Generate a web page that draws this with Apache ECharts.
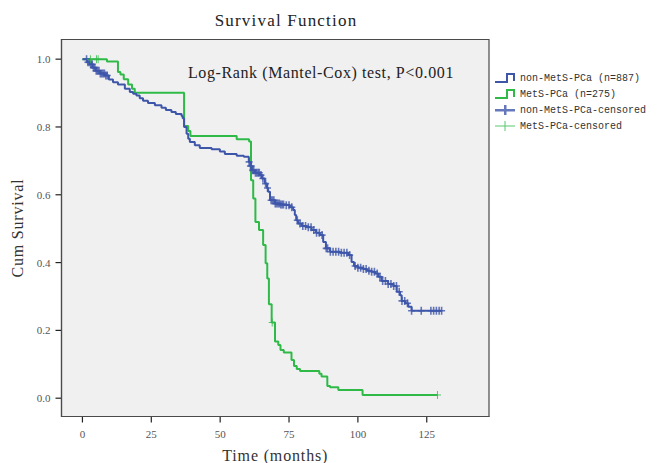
<!DOCTYPE html>
<html><head><meta charset="utf-8">
<script src="https://cdn.jsdelivr.net/npm/echarts@6/dist/echarts.min.js"></script>
<style>html,body{margin:0;padding:0;background:#fff}#c{width:661px;height:463px}</style>
</head><body><div id="c"></div><script>
// ---- data (months, cumulative survival) ----
var nonMetsTime = [0,1.7,2.7,3.7,4.8,6.3,8.1,9.6,11.1,12.9,15.4,17.2,18.4,19.6,20.8,22.0,23.8,26.3,28.7,30.3,32.3,33.9,36.0,36.4,36.9,37.8,38.4,39.0,40.8,42.6,46.9,49.9,51.7,56.0,58.6,60.4,61.0,61.5,62.6,64.4,65.2,66.2,67.0,67.4,68.1,69.9,71.7,73.5,75.3,76.5,77.1,77.6,78.3,79.6,81.4,83.2,84.8,86.2,87.4,88.4,89.9,93.5,96.5,97.7,98.6,100.0,102.0,103.3,105.0,106.2,107.4,108.6,111.0,112.9,114.1,115.3,115.9,117.1,118.3,119.5];
var nonMetsSurv = [1.0,0.991,0.985,0.975,0.966,0.958,0.952,0.940,0.932,0.925,0.913,0.903,0.898,0.893,0.885,0.877,0.871,0.864,0.857,0.850,0.844,0.838,0.832,0.826,0.800,0.780,0.765,0.756,0.746,0.738,0.734,0.728,0.720,0.715,0.712,0.697,0.685,0.672,0.665,0.658,0.648,0.633,0.620,0.609,0.584,0.574,0.571,0.569,0.563,0.555,0.540,0.525,0.515,0.508,0.504,0.496,0.488,0.481,0.461,0.442,0.432,0.429,0.422,0.402,0.390,0.385,0.381,0.376,0.373,0.368,0.358,0.346,0.337,0.331,0.314,0.304,0.287,0.280,0.270,0.258];
var nonMetsCensored = [1.5,2,2.5,3,3.5,4,4.5,5,5.5,6,6.5,7,7.5,8,8.5,9,60.5,61,61.3,61.8,62.2,62.8,63.3,63.8,64.2,64.8,65.5,66.5,67.2,68.5,69,69.5,70,70.5,71,71.5,72,72.5,73,74,75,76,78,79,80,81,82,83,84,85,86,87,88.5,89,90,91,92,93,94,95,96,97,99,100,101,102,103,104,105,106,107,108,109,110,111,112,113,114,115,116,117,118,119.5,123,126.5,127.5,128.5,129.5,130.4];
var metsTime = [0,8.9,12.9,13.8,15.0,16.6,18.0,19.0,36.9,38.4,39.2,56.0,60.5,61.2,62.0,62.8,64.1,65.6,66.5,67.1,67.7,68.7,69.9,71.1,71.9,73.1,75.9,76.8,77.8,79.0,86.0,86.8,88.9,89.9,92.9,101.7];
var metsSurv = [1.0,0.993,0.962,0.955,0.941,0.925,0.913,0.901,0.803,0.788,0.773,0.764,0.757,0.643,0.589,0.520,0.496,0.452,0.398,0.353,0.277,0.223,0.167,0.157,0.142,0.135,0.113,0.095,0.086,0.080,0.072,0.064,0.036,0.032,0.024,0.0097];
var metsCensored = [2.9,5.1,5.7,68.9,128.9];
var xTicks = [0,25,50,75,100,125];
var yTicks = [0,0.2,0.4,0.6,0.8,1.0];
var seriesNames = ['non-MetS-PCa (n=887)','MetS-PCa (n=275)','non-MetS-PCa-censored','MetS-PCa-censored'];

var X_MIN = -7.6, X_MAX = 147.6, Y_MIN = -0.054, Y_MAX = 1.058;

function survAt(times, surv, t){ var s = surv[0]; for (var i=0;i<times.length;i++){ if (times[i] <= t) s = surv[i]; } return s; }
function stepData(times, surv, cens){
  var d = times.map(function(t,i){return [t, surv[i]];});
  var last = cens[cens.length-1];
  if (last > times[times.length-1]) d.push([last, surv[surv.length-1]]);
  return d;
}
function censData(times, surv, cens){ return cens.map(function(t){return [t, survAt(times, surv, t)];}); }

var BLUE = '#3e56aa', GREEN = '#2fba48';
var SERIF = 'Liberation Serif';
var stepIcon = 'path://M0,8 L11,8 L11,0 L20,0 L20,8 L18,8 L18,2 L13,2 L13,10 L0,10 Z';
var plusBold = 'path://M0,4 L20,4 L20,6.5 L0,6.5 Z M9,0 L11.5,0 L11.5,10 L9,10 Z';
var plusThin = 'path://M0,4.6 L20,4.6 L20,5.6 L0,5.6 Z M9.5,0 L10.5,0 L10.5,10 L9.5,10 Z';
var plusMark = 'path://M0,3.2 L7,3.2 L7,4.8 L0,4.8 Z M2.7,0 L4.3,0 L4.3,8 L2.7,8 Z';
var plusMarkThin = 'path://M0,3.5 L7,3.5 L7,4.5 L0,4.5 Z M3,0 L4,0 L4,8 L3,8 Z';

// outward tick marks on the frame, positioned through the axes' scales
function xTickItem(params, api){
  var p = api.coord([api.value(0), api.value(1)]);
  return { type: 'line', shape: { x1: p[0], y1: p[1], x2: p[0], y2: p[1] + 6 }, style: { stroke: '#222', lineWidth: 1.2 } };
}
function yTickItem(params, api){
  var p = api.coord([api.value(0), api.value(1)]);
  return { type: 'line', shape: { x1: p[0] - 6, y1: p[1], x2: p[0], y2: p[1] }, style: { stroke: '#222', lineWidth: 1.2 } };
}

var chart = echarts.init(document.getElementById('c'), null, {renderer:'svg'});
chart.setOption({
  animation: false,
  backgroundColor: '#ffffff',
  title: { text: 'Survival Function', left: 281, top: 7, textAlign: 'center',
    textStyle: { fontFamily: SERIF, fontSize: 17, fontWeight: 'normal', color: '#222' } },
  grid: { left: 61.5, top: 39.5, right: 172, bottom: 46.5, show: true, backgroundColor: '#f0f0f0', borderColor: '#4a4a4a', borderWidth: 1.2,
    containLabel: false, outerBoundsMode: 'none' },
  legend: {
    orient: 'vertical', left: 490, top: 68, itemWidth: 20, itemHeight: 10, itemGap: 6,
    textStyle: { fontFamily: 'Liberation Mono', fontSize: 10, color: '#333' },
    data: [
      { name: seriesNames[0], icon: stepIcon, itemStyle: { color: BLUE } },
      { name: seriesNames[1], icon: stepIcon, itemStyle: { color: GREEN } },
      { name: seriesNames[2], icon: plusBold, itemStyle: { color: BLUE } },
      { name: seriesNames[3], icon: plusThin, itemStyle: { color: GREEN } }
    ]
  },
  graphic: [{ type: 'text', left: 188, top: 64,
    style: { text: 'Log-Rank (Mantel-Cox) test, P<0.001', font: '16px "Liberation Serif"', fill: '#222' } }],
  xAxis: {
    type: 'value', min: X_MIN, max: X_MAX, z: 10,
    name: 'Time (months)', nameLocation: 'middle', nameGap: 31,
    nameTextStyle: { fontFamily: SERIF, fontSize: 16, color: '#333' },
    axisLine: { show: true, onZero: false, lineStyle: { color: '#4a4a4a', width: 1.2 } },
    axisTick: { show: false },
    axisLabel: { customValues: xTicks, margin: 12, fontFamily: SERIF, fontSize: 11, color: '#555' },
    splitLine: { show: false }
  },
  yAxis: {
    type: 'value', min: Y_MIN, max: Y_MAX, z: 10,
    name: 'Cum Survival', nameLocation: 'middle', nameGap: 28, nameRotate: 90,
    nameTextStyle: { fontFamily: SERIF, fontSize: 16, color: '#333' },
    axisLine: { show: true, onZero: false, lineStyle: { color: '#4a4a4a', width: 1.2 } },
    axisTick: { show: false },
    axisLabel: { customValues: yTicks, margin: 11, fontFamily: SERIF, fontSize: 11, color: '#555',
      formatter: function(v){ return v.toFixed(1); } },
    splitLine: { show: false }
  },
  series: [
    { name: seriesNames[0], type: 'line', step: 'end', symbol: 'none', data: stepData(nonMetsTime, nonMetsSurv, nonMetsCensored),
      lineStyle: { color: BLUE, width: 2 }, itemStyle: { color: BLUE }, z: 3 },
    { name: seriesNames[1], type: 'line', step: 'end', symbol: 'none', data: stepData(metsTime, metsSurv, metsCensored),
      lineStyle: { color: GREEN, width: 2 }, itemStyle: { color: GREEN }, z: 2 },
    { name: seriesNames[2], type: 'scatter', symbol: plusMark, symbolSize: [7, 8], data: censData(nonMetsTime, nonMetsSurv, nonMetsCensored),
      itemStyle: { color: BLUE }, z: 4 },
    { name: seriesNames[3], type: 'scatter', symbol: plusMarkThin, symbolSize: [7, 8], data: censData(metsTime, metsSurv, metsCensored),
      itemStyle: { color: GREEN }, z: 4 },
    { name: 'xTicks', type: 'custom', silent: true, clip: false, z: 10, renderItem: xTickItem,
      data: xTicks.map(function(v){ return [v, Y_MIN]; }) },
    { name: 'yTicks', type: 'custom', silent: true, clip: false, z: 10, renderItem: yTickItem,
      data: yTicks.map(function(v){ return [X_MIN, v]; }) }
  ]
});
// widen spacing of the serif captions to match the reference typography
var spacing = { 'Survival Function': '1.2px', 'Time (months)': '0.85px', 'Cum Survival': '0.8px', 'Log-Rank (Mantel-Cox) test, P<0.001': '0.6px' };
function applySpacing(){
  var texts = document.querySelectorAll('#c svg text');
  for (var i=0;i<texts.length;i++){
    var s = spacing[texts[i].textContent];
    if (s) texts[i].setAttribute('letter-spacing', s);
  }
}
chart.on('finished', applySpacing);
applySpacing();
setTimeout(applySpacing, 50);
</script></body></html>
